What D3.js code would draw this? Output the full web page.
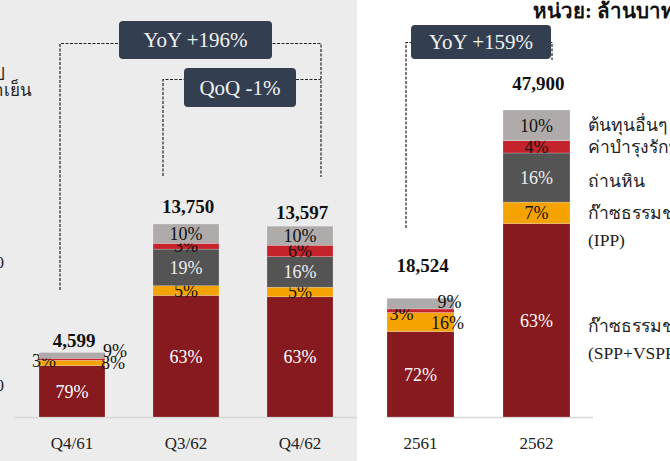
<!DOCTYPE html>
<html>
<head>
<meta charset="utf-8">
<script src="https://cdn.jsdelivr.net/npm/d3@7"></script>
<style>
  body { margin: 0; background: #fff; }
  svg { display: block; font-family: "Liberation Serif", "Times New Roman", serif; }
</style>
</head>
<body>
<svg width="670" height="461"></svg>
<script>
// Data (percent shares of each bar, bottom to top)
var leftCats = ["Q4/61", "Q3/62", "Q4/62"];
var leftTotals = [4599, 13750, 13597];
var leftGasSpp = [79, 63, 63];
var leftGasIpp = [8, 5, 5];
var leftCoal = [0, 19, 16];
var leftMaint = [3, 3, 6];
var leftOther = [9, 10, 10];

var rightCats = ["2561", "2562"];
var rightTotals = [18524, 47900];
var rightGasSpp = [72, 63];
var rightGasIpp = [16, 7];
var rightCoal = [0, 16];
var rightMaint = [3, 4];
var rightOther = [9, 10];

var seriesKeys = ["gasSpp", "gasIpp", "coal", "maint", "other"];
var legendLines = [
  ["ก๊าซธรรมชาติ", "(SPP+VSPP)"],
  ["ก๊าซธรรมชาติ", "(IPP)"],
  ["ถ่านหิน"],
  ["ค่าบำรุงรักษา"],
  ["ต้นทุนอื่นๆ"]
];
var colors = ["#861a1f", "#f5a300", "#545454", "#c5232b", "#afabab"];
var labelColors = ["#fff", "#111", "#eee", "#111", "#111"];

var svg = d3.select("svg"),
  width = +svg.attr("width"),
  height = +svg.attr("height");

var baseY = 417;

// left panel background
svg.append("rect").attr("x", 0).attr("y", 0).attr("width", 357).attr("height", height).attr("fill", "#ececec");

// scales
var xL = d3.scaleBand().domain(leftCats).range([15, 357]).paddingInner(0.421).paddingOuter(0.2105);
var yL = d3.scaleLinear().domain([0, 13750]).range([baseY, 224]);
var xR = d3.scaleBand().domain(rightCats).range([387, 570]).paddingInner(0.4224).paddingOuter(0);
var yR = d3.scaleLinear().domain([0, 47900]).range([baseY, 110]);

// label tweaks for the thin segments (dx, dy from segment centre)
var nudge = {
  "Q4/61|gasIpp": [41, 0],
  "Q4/61|maint": [-28, 1],
  "Q4/61|other": [43, -5],
  "2561|gasIpp": [27, 1],
  "2561|maint": [-19, 3],
  "2561|other": [29, -2]
};
var totalGap = { "Q4/61": 5, "Q3/62": 11, "Q4/62": 7, "2561": 26, "2562": 20 };

function buildRows(cats, totals, series) {
  return cats.map(function (c, i) {
    var sum = d3.sum(series, function (s) { return s[i]; });
    var row = { cat: c, total: totals[i] };
    seriesKeys.forEach(function (k, j) {
      row[k] = series[j][i] / sum * totals[i];
      row[k + "Pct"] = series[j][i];
    });
    return row;
  });
}

function drawPanel(rows, x, y, axisEnd) {
  var stack = d3.stack().keys(seriesKeys)(rows);
  var g = svg.append("g");

  // axis line
  g.append("line")
    .attr("x1", x.range()[0]).attr("x2", axisEnd)
    .attr("y1", baseY + 0.5).attr("y2", baseY + 0.5)
    .attr("stroke", "#d6d6d6").attr("stroke-width", 1.5);

  stack.forEach(function (layer, j) {
    g.append("g").selectAll("rect")
      .data(layer)
      .enter()
      .append("rect")
      .attr("x", function (d) { return x(d.data.cat); })
      .attr("width", x.bandwidth())
      .attr("y", function (d) { return y(d[1]); })
      .attr("height", function (d) { return y(d[0]) - y(d[1]); })
      .attr("fill", colors[j])
      .attr("stroke", "rgba(255,255,255,0.35)")
      .attr("stroke-width", 0.6);

    g.append("g").selectAll("text")
      .data(layer.filter(function (d) { return d.data[seriesKeys[j] + "Pct"] > 0; }))
      .enter()
      .append("text")
      .attr("x", function (d) {
        var n = nudge[d.data.cat + "|" + seriesKeys[j]];
        return x(d.data.cat) + x.bandwidth() / 2 + (n ? n[0] : 0);
      })
      .attr("y", function (d) {
        var n = nudge[d.data.cat + "|" + seriesKeys[j]];
        return (y(d[0]) + y(d[1])) / 2 + (n ? n[1] : 0);
      })
      .attr("dy", "0.35em")
      .attr("text-anchor", "middle")
      .attr("font-size", 18)
      .attr("fill", function (d) {
        return nudge[d.data.cat + "|" + seriesKeys[j]] ? "#111" : labelColors[j];
      })
      .text(function (d) { return d.data[seriesKeys[j] + "Pct"] + "%"; });
  });

  // totals
  g.append("g").selectAll("text")
    .data(rows)
    .enter()
    .append("text")
    .attr("x", function (d) { return x(d.cat) + x.bandwidth() / 2 + 2; })
    .attr("y", function (d) { return y(d.total) - totalGap[d.cat]; })
    .attr("text-anchor", "middle")
    .attr("font-size", 19)
    .attr("font-weight", "bold")
    .attr("fill", "#111")
    .text(function (d) { return d3.format(",")(d.total); });

  // category labels
  g.append("g").selectAll("text")
    .data(rows)
    .enter()
    .append("text")
    .attr("x", function (d) { return x(d.cat) + x.bandwidth() / 2; })
    .attr("y", 449)
    .attr("text-anchor", "middle")
    .attr("font-size", 17)
    .attr("fill", "#222")
    .text(function (d) { return d.cat; });

  return stack;
}

var leftRows = buildRows(leftCats, leftTotals, [leftGasSpp, leftGasIpp, leftCoal, leftMaint, leftOther]);
var rightRows = buildRows(rightCats, rightTotals, [rightGasSpp, rightGasIpp, rightCoal, rightMaint, rightOther]);

drawPanel(leftRows, xL, yL, 357);
var rightStack = drawPanel(rightRows, xR, yR, 593);

// legend beside the 2562 bar
var legend = svg.append("g").attr("font-size", 17.5).attr("fill", "#222");
rightStack.forEach(function (layer, j) {
  var d = layer[1];
  var cy = (yR(d[0]) + yR(d[1])) / 2;
  var lines = legendLines[j];
  lines.forEach(function (t, k) {
    legend.append("text")
      .attr("x", 588)
      .attr("y", cy + 6 + k * 27 + (lines.length > 1 && j === 0 ? 6 : 0) + (j === 2 ? 3 : 0))
      .text(t);
  });
});

// unit title
svg.append("text")
  .attr("x", 533).attr("y", 18)
  .attr("font-size", 20.5).attr("font-weight", "bold").attr("fill", "#111")
  .text("หน่วย: ล้านบาท");

// clipped remnants on the left edge
svg.append("text").attr("x", 32).attr("y", 96).attr("text-anchor", "end").attr("font-size", 17).attr("fill", "#222").text("น้ำเย็น");
svg.append("text").attr("x", 5).attr("y", 80).attr("text-anchor", "end").attr("font-size", 17).attr("fill", "#222").text("ป");
svg.append("text").attr("x", 4).attr("y", 268).attr("text-anchor", "end").attr("font-size", 17).attr("fill", "#222").text("0");
svg.append("text").attr("x", 4).attr("y", 391).attr("text-anchor", "end").attr("font-size", 17).attr("fill", "#222").text("0");

// growth annotations
var dash = svg.append("g").attr("fill", "none").attr("stroke", "#222").attr("stroke-width", 1.2).attr("stroke-dasharray", "3,1.5");
var xa = xL("Q4/61") + 21, xb = xL("Q3/62") + 10, xc = xL("Q4/62") + 54;
dash.append("path").attr("d", "M" + xa + ",290V43.5H" + xc + "V177");
dash.append("path").attr("d", "M" + xb + ",176V79.5H" + xc);
var xd = xR("2561") + 19, xe = xR("2562") + 49;
dash.append("path").attr("d", "M" + xd + ",228V42.5H" + xe + "V60");

function badge(x0, y0, w, h, label) {
  svg.append("rect")
    .attr("x", x0).attr("y", y0).attr("width", w).attr("height", h)
    .attr("rx", 4).attr("fill", "#333f50");
  svg.append("text")
    .attr("x", x0 + w / 2).attr("y", y0 + h / 2 + 7)
    .attr("text-anchor", "middle").attr("font-size", 21).attr("fill", "#f2f2f2")
    .text(label);
}
badge(119, 21, 153, 38, "YoY +196%");
badge(184, 68, 112, 39, "QoQ -1%");
badge(411, 25, 140, 34, "YoY +159%");
</script>
</body>
</html>
